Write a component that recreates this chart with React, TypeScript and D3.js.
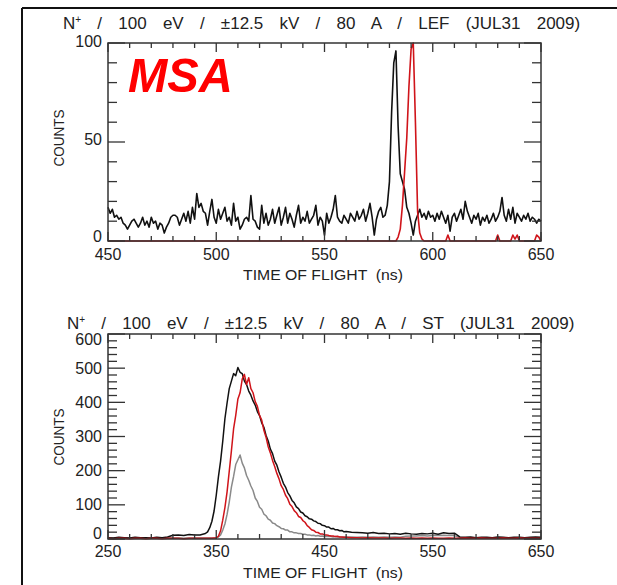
import React from "react";
import * as d3 from "d3";

// ---------- DATA ----------
const TITLE_TOP_REST = " / 100 eV / ±12.5 kV / 80 A / LEF (JUL31 2009)";
const TITLE_BOT_REST = " / 100 eV / ±12.5 kV / 80 A / ST (JUL31 2009)";
const X_TITLE = "TIME OF FLIGHT  (ns)";
const Y_TITLE = "COUNTS";

const TOP_X_TICKS = [450, 500, 550, 600, 650];
const TOP_Y_TICKS = [0, 50, 100];
const BOT_X_TICKS = [250, 350, 450, 550, 650];
const BOT_Y_TICKS = [0, 100, 200, 300, 400, 500, 600];

// top panel: 1 ns bins, 450..650
const TOP_T = d3.range(450, 651, 1);
const TOP_BLACK = [
  17, 14, 16, 12, 13, 11, 12, 9, 8, 6,
  8, 10, 11, 9, 7, 9, 12, 8, 10, 7,
  12, 9, 10, 6, 9, 8, 4, 7, 9, 12,
  13, 13, 12, 8, 11, 14, 10, 15, 9, 17,
  11, 24, 17, 19, 15, 14, 8, 15, 21, 12,
  9, 16, 11, 14, 17, 10, 12, 8, 19, 10,
  12, 6, 8, 11, 12, 10, 23, 11, 10, 7,
  6, 18, 9, 14, 8, 11, 16, 9, 13, 17,
  8, 12, 17, 9, 14, 11, 7, 13, 18, 9,
  12, 10, 15, 9, 11, 13, 18, 8, 12, 10,
  3, 14, 9, 12, 16, 23, 12, 10, 9, 13,
  11, 9, 14, 12, 10, 15, 11, 13, 16, 10,
  14, 19, 12, 3, 11, 15, 17, 12, 13, 18,
  30, 65, 90, 96, 58, 34, 30, 26, 17, 14,
  9, 3, 10, 13, 16, 12, 14, 11, 15, 12,
  13, 10, 14, 11, 15, 12, 9, 13, 5, 12,
  14, 10, 13, 16, 11, 20, 15, 12, 9, 13,
  11, 14, 8, 12, 10, 13, 9, 11, 14, 10,
  12, 15, 22, 13, 10, 16, 11, 17, 9, 14,
  12, 10, 13, 11, 14, 10, 12, 11, 9, 11,
  10,
];
const TOP_RED_T = [450, 583, 584, 585, 586, 587, 588, 589, 590, 591, 592, 593, 594, 595, 596, 606, 607, 608, 629, 630, 631, 636, 637, 638, 639, 640, 647, 648, 649, 650];
const TOP_RED = [0, 0, 2, 6, 18, 35, 52, 78, 97, 100, 60, 15, 4, 1, 0, 0, 3, 0, 0, 3, 0, 0, 3, 1, 3, 0, 0, 3, 2, 0];

// bottom panel
const BOT_T = [...d3.range(250, 340, 5), ...d3.range(340, 472, 2), ...d3.range(475, 651, 5)];
const BOT_BLACK = [
  4, 3, 5, 4, 3, 5, 4, 4, 3, 5, 4, 6, 11, 12, 10, 13, 12, 12,
  16, 21, 33, 52, 82, 128, 182, 228, 286, 352, 398, 440, 462, 484, 478, 502, 488, 484,
  462, 452, 433, 421, 404, 392, 373, 361, 340, 327, 303, 287, 263, 250, 228, 216, 196, 181,
  163, 152, 136, 126, 113, 106, 94, 89, 79, 76, 68, 65, 59, 58, 53, 51, 46, 45, 40, 39,
  35, 35, 30, 31, 27, 27, 24, 25, 21, 22,
  20, 19, 18, 17, 19, 16, 17, 15, 16, 14, 17, 15, 14, 16, 15, 17, 14, 18, 16, 17,
  6, 5, 6, 4, 5, 5, 4, 6, 5, 4, 5, 5, 4, 5, 6, 5,
];
const BOT_RED = [
  2, 1, 2, 2, 1, 2, 2, 1, 2, 2, 1, 2, 2, 2, 1, 2, 2, 2,
  2, 2, 2, 2, 3, 3, 8, 24, 55, 92, 138, 198, 258, 322, 362, 410, 428, 468,
  482, 452, 472, 440, 428, 402, 388, 362, 348, 318, 298, 270, 252, 230, 212, 192, 176, 156,
  145, 128, 118, 102, 95, 83, 77, 66, 63, 54, 49, 39, 34, 27, 25, 20, 19, 15, 15, 12,
  12, 10, 9, 9, 7, 8, 6, 6, 5, 5,
  4, 4, 3, 4, 3, 3, 3, 2, 3, 3, 2, 3, 2, 3, 2, 3, 2, 2, 3, 2,
  2, 3, 2, 2, 3, 2, 2, 2, 3, 2, 2, 3, 2, 2, 2, 2,
];
const BOT_GRAY = [
  3, 2, 3, 3, 2, 3, 3, 2, 3, 3, 2, 3, 3, 3, 2, 3, 3, 3,
  3, 3, 3, 3, 3, 4, 6, 12, 26, 44, 72, 108, 152, 183, 218, 232, 246, 222,
  208, 186, 172, 155, 142, 120, 110, 93, 87, 73, 68, 58, 55, 47, 45, 39, 36, 31,
  30, 26, 26, 21, 21, 18, 18, 16, 16, 14, 14, 12, 12, 10, 11, 9, 10, 8, 9, 7,
  8, 7, 7, 6, 7, 6, 6, 5, 6, 5,
  6, 5, 6, 5, 6, 5, 6, 5, 6, 5, 8, 9, 9, 10, 9, 10, 10, 11, 10, 10,
  4, 3, 3, 3, 3, 3, 3, 3, 3, 3, 3, 3, 3, 3, 3, 3,
];

// ---------- STYLE ----------
const FONT = "'Liberation Sans', Arial, sans-serif";
const AX = "#333";
const RED = "#d0141a";

type PanelProps = {
  xDomain: [number, number];
  yDomain: [number, number];
  top: number;
  bottom: number;
  xTicks: number[];
  yTicks: number[];
  yLabelOff: number[];
  xMinorStep: number;
  yMinorStep: number;
  series: { t: number[]; v: number[]; color: string; w: number }[];
  titleRest: string;
  titleX: number;
  titleY: number;
  titleWS: number;
  xLabelY: number;
  xTitleY: number;
  yTitleCy: number;
};

function Panel(p: PanelProps) {
  const left = 108, right = 541;
  const x = d3.scaleLinear().domain(p.xDomain).range([left, right]);
  const y = d3.scaleLinear().domain(p.yDomain).range([p.bottom, p.top]);
  const xMinor = d3.range(p.xDomain[0], p.xDomain[1] + 0.001, p.xMinorStep);
  const yMinor = d3.range(p.yDomain[0], p.yDomain[1] + 0.001, p.yMinorStep);
  const xMajLen = 9, xMinLen = 5, yMajLen = 17, yMinLen = 9;
  return (
    <g>
      {p.series.map((s, i) => {
        const line = d3
          .line<number>()
          .x((_, j) => x(s.t[j]))
          .y((d) => y(d));
        return <path key={i} d={line(s.v) || ""} fill="none" stroke={s.color} strokeWidth={s.w} strokeLinejoin="round" />;
      })}
      <rect x={left} y={p.top} width={right - left} height={p.bottom - p.top} fill="none" stroke={AX} strokeWidth={1.5} />
      {xMinor.map((v) => {
        const isMaj = p.xTicks.includes(v);
        const L = isMaj ? xMajLen : xMinLen;
        return (
          <g key={"x" + v}>
            <line x1={x(v)} x2={x(v)} y1={p.bottom} y2={p.bottom - L} stroke={AX} strokeWidth={1.3} />
            <line x1={x(v)} x2={x(v)} y1={p.top} y2={p.top + L} stroke={AX} strokeWidth={1.3} />
          </g>
        );
      })}
      {yMinor.map((v) => {
        const isMaj = p.yTicks.includes(v);
        const L = isMaj ? yMajLen : yMinLen;
        return (
          <g key={"y" + v}>
            <line x1={left} x2={left + L} y1={y(v)} y2={y(v)} stroke={AX} strokeWidth={1.3} />
            <line x1={right} x2={right - L} y1={y(v)} y2={y(v)} stroke={AX} strokeWidth={1.3} />
          </g>
        );
      })}
      {p.xTicks.map((v) => (
        <text key={"xl" + v} x={x(v)} y={p.xLabelY} textAnchor="middle" fontSize={16} fontFamily={FONT} fill="#222">
          {v}
        </text>
      ))}
      {p.yTicks.map((v, i) => (
        <text key={"yl" + v} x={102} y={y(v) + p.yLabelOff[i]} textAnchor="end" fontSize={16} fontFamily={FONT} fill="#222">
          {v}
        </text>
      ))}
      <text x={243} y={p.xTitleY} fontSize={15} fontFamily={FONT} fill="#222" textLength={160} lengthAdjust="spacingAndGlyphs" style={{ whiteSpace: "pre" }}>
        {X_TITLE}
      </text>
      <text
        transform={`translate(63.5,${p.yTitleCy}) rotate(-90)`}
        textAnchor="middle"
        fontSize={15}
        fontFamily={FONT}
        fill="#222"
        textLength={57}
        lengthAdjust="spacingAndGlyphs"
      >
        {Y_TITLE}
      </text>
      <text x={p.titleX} y={p.titleY} fontSize={17} fontFamily={FONT} fill="#222" wordSpacing={p.titleWS} style={{ whiteSpace: "pre" }}>
        <tspan>N</tspan>
        <tspan dy={-6} fontSize={10}>+</tspan>
        <tspan dy={6}>{p.titleRest}</tspan>
      </text>
    </g>
  );
}

export default function App() {
  return (
    <svg width={617} height={585} style={{ position: "absolute", left: 0, top: 0, background: "#fff" }}>
      <rect x={0} y={0} width={617} height={585} fill="#fff" />
      {/* outer frame */}
      <line x1={22} x2={617} y1={8} y2={8} stroke="#111" strokeWidth={2} />
      <line x1={22} x2={22} y1={8} y2={585} stroke="#111" strokeWidth={2} />

      <Panel
        xDomain={[450, 650]}
        yDomain={[0, 100]}
        top={43}
        bottom={241}
        xTicks={TOP_X_TICKS}
        yTicks={TOP_Y_TICKS}
        yLabelOff={[1, 3, 4]}
        xMinorStep={10}
        yMinorStep={10}
        series={[
          { t: TOP_T, v: TOP_BLACK, color: "#111", w: 1.6 },
          { t: TOP_RED_T, v: TOP_RED, color: RED, w: 1.6 },
        ]}
        titleRest={TITLE_TOP_REST}
        titleX={63}
        titleY={28.5}
        titleWS={11.5}
        xLabelY={260}
        xTitleY={280}
        yTitleCy={138}
      />
      <Panel
        xDomain={[250, 650]}
        yDomain={[0, 600]}
        top={334}
        bottom={539}
        xTicks={BOT_X_TICKS}
        yTicks={BOT_Y_TICKS}
        yLabelOff={[0, 5.5, 5.5, 5.5, 5.5, 5.5, 11]}
        xMinorStep={20}
        yMinorStep={20}
        series={[
          { t: BOT_T, v: BOT_GRAY, color: "#8a8a8a", w: 1.5 },
          { t: BOT_T, v: BOT_BLACK, color: "#111", w: 1.5 },
          { t: BOT_T, v: BOT_RED, color: RED, w: 1.5 },
        ]}
        titleRest={TITLE_BOT_REST}
        titleX={67}
        titleY={328.5}
        titleWS={11.5}
        xLabelY={557}
        xTitleY={578}
        yTitleCy={437}
      />
      <text x={128} y={91.5} fontSize={49} fontWeight="bold" fontStyle="italic" fontFamily={FONT} fill="#ff0000" textLength={105} lengthAdjust="spacingAndGlyphs">
        MSA
      </text>
    </svg>
  );
}
